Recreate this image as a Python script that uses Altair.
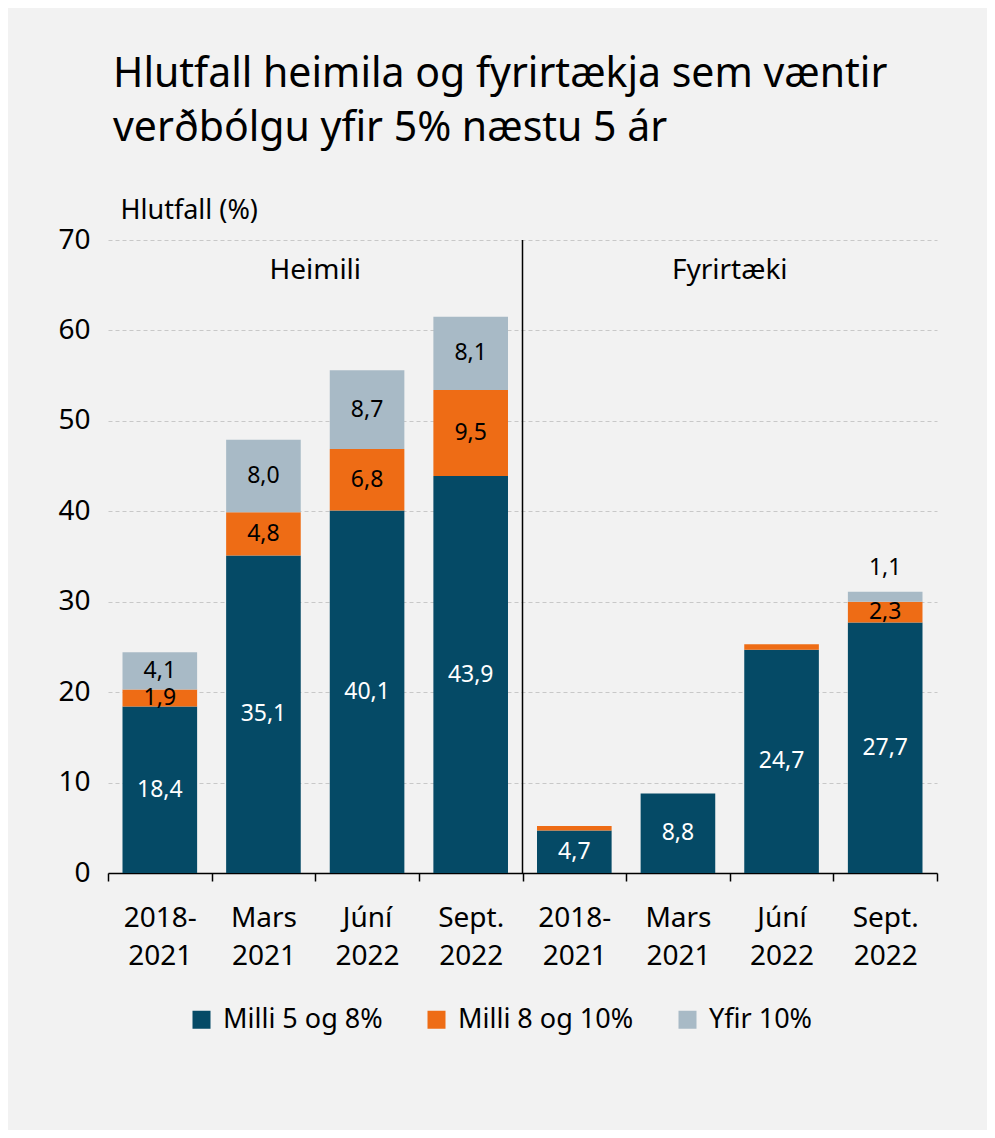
import altair as alt
import pandas as pd

groups = ["Heimili", "Fyrirtæki"]
group_keys = ["H", "F"]
periods = [["2018-", "2021"], ["Mars", "2021"], ["Júní", "2022"], ["Sept.", "2022"]]
series = ["Milli 5 og 8%", "Milli 8 og 10%", "Yfir 10%"]
colors = ["#054a66", "#ee6c15", "#a8bac6"]

heimili_5_8 = [18.4, 35.1, 40.1, 43.9]
heimili_8_10 = [1.9, 4.8, 6.8, 9.5]
heimili_10 = [4.1, 8.0, 8.7, 8.1]
fyrirtaeki_5_8 = [4.7, 8.8, 24.7, 27.7]
fyrirtaeki_8_10 = [0.5, 0.0, 0.6, 2.3]
fyrirtaeki_10 = [0.0, 0.0, 0.0, 1.1]

values = {
    "H": [heimili_5_8, heimili_8_10, heimili_10],
    "F": [fyrirtaeki_5_8, fyrirtaeki_8_10, fyrirtaeki_10],
}

cats = [f"{g}{i}" for g in group_keys for i in range(len(periods))]
rows = []
for g in group_keys:
    for s_i, s in enumerate(series):
        for p_i in range(len(periods)):
            rows.append({"cat": f"{g}{p_i}", "series": s, "order": s_i,
                         "value": values[g][s_i][p_i]})
df = pd.DataFrame(rows)

label_map = {f"{g}{i}": periods[i] for g in group_keys for i in range(len(periods))}
label_expr = " : ".join(
    [f"datum.value == '{k}' ? ['{v[0]}', '{v[1]}']" for k, v in label_map.items()]
) + " : ''"

FONT = "Noto Sans"
x_enc = alt.X("cat:N", sort=cats, title=None,
              scale=alt.Scale(paddingInner=0, paddingOuter=0),
              axis=alt.Axis(labelAngle=0, tickBand="extent", labelExpr=label_expr,
                            domainColor="black", tickColor="black", tickSize=8,
                            domainWidth=1.5, tickWidth=1.5,
                            labelFontSize=28, labelLineHeight=38, labelPadding=23,
                            labelColor="black", labelFont=FONT))

bars = alt.Chart(df).mark_bar(width=alt.RelativeBandSize(0.72)).encode(
    x=x_enc,
    y=alt.Y("value:Q", stack="zero",
            scale=alt.Scale(domain=[0, 70]),
            axis=alt.Axis(values=list(range(0, 71, 10)), domain=False, ticks=False,
                          gridDash=[4, 3], gridColor="#c8c8c8", gridWidth=1,
                          labelFontSize=28, labelPadding=18, labelColor="black",
                          labelFont=FONT,
                          title="Hlutfall (%)", titleAngle=0, titleAlign="left",
                          titleBaseline="middle", titleX=12, titleY=-30,
                          titleFontSize=27, titleFontWeight="normal",
                          titleFont=FONT, titleColor="black")),
    color=alt.Color("series:N", scale=alt.Scale(domain=series, range=colors),
                    legend=alt.Legend(orient="none", legendX=80, legendY=766,
                                      direction="horizontal", title=None,
                                      symbolType="square", symbolSize=324,
                                      symbolStrokeWidth=0, labelFontSize=27,
                                      labelFont=FONT, labelColor="black",
                                      labelLimit=0,
                                      columnPadding=40, labelOffset=8)),
    order=alt.Order("order:Q"),
)

labels = alt.Chart(df).transform_stack(
    stack="value", groupby=["cat"], as_=["v0", "v1"],
    sort=[alt.SortField("order")]
).transform_filter(
    "datum.value >= 1"
).transform_calculate(
    ypos="datum.value < 1.5 ? datum.v1 + 2.6 : (datum.v0 + datum.v1) / 2",
    txt="replace(format(datum.value, '.1f'), '.', ',')",
).mark_text(fontSize=23, font=FONT, baseline="middle").encode(
    x=alt.X("cat:N", sort=cats),
    y=alt.Y("ypos:Q"),
    text="txt:N",
    color=alt.condition("datum.order == 0", alt.value("white"), alt.value("black")),
)

gdf = pd.DataFrame({"group": groups, "cat": [f"{g}2" for g in group_keys]})
group_labels = alt.Chart(gdf).mark_text(fontSize=28, font=FONT, color="black",
                                        baseline="middle").encode(
    x=alt.X("cat:N", sort=cats, bandPosition=0),
    y=alt.value(31),
    text="group:N",
)

divider = alt.Chart(pd.DataFrame({"cat": [f"{group_keys[1]}0"]})).mark_rule(
    color="black", strokeWidth=1.5).encode(
    x=alt.X("cat:N", sort=cats, bandPosition=0),
    y=alt.value(0),
    y2=alt.value(633),
)

chart = alt.layer(bars, labels, group_labels, divider).properties(
    width=829, height=633,
    autosize=alt.AutoSizeParams(type="none"),
    padding={"left": 100, "top": 232, "right": 50, "bottom": 257},
    background="#f2f2f2",
    title=alt.TitleParams(
        text=["Hlutfall heimila og fyrirtækja sem væntir", "verðbólgu yfir 5% næstu 5 ár"],
        anchor="start", frame="group", fontSize=41, font=FONT, fontWeight="normal",
        color="black", lineHeight=54, offset=46, dx=5,
    ),
).configure_view(stroke=None)

chart.save("out.html", embed_options={"renderer": "svg", "actions": False})
